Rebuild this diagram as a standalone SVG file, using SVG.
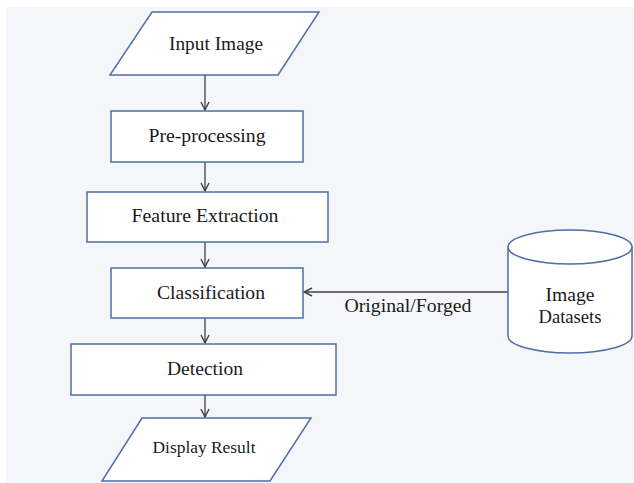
<svg xmlns="http://www.w3.org/2000/svg" width="634" height="483" viewBox="0 0 634 483">
<defs>
<style>
.shape{fill:#ffffff;stroke:#4f6ea8;stroke-width:1.5}
.conn{fill:none;stroke:#404040;stroke-width:1.3}
.t{font-family:"Liberation Serif","Times New Roman",serif;font-size:18.5px;fill:#1a1a1a;text-anchor:middle}
</style>
<marker id="arr" viewBox="0 0 10 10" refX="9" refY="5" markerWidth="10" markerHeight="10" markerUnits="userSpaceOnUse" orient="auto">
<path d="M1,1 L9,5 L1,9" fill="none" stroke="#404040" stroke-width="1.4"/>
</marker>
</defs>
<rect x="0" y="0" width="634" height="483" fill="#ffffff"/>
<rect x="6" y="7" width="628" height="476" fill="#f5f6fa"/>
<g id="connectors">
<line class="conn" x1="205" y1="75" x2="205" y2="110" marker-end="url(#arr)"/>
<line class="conn" x1="205" y1="162" x2="205" y2="191" marker-end="url(#arr)"/>
<line class="conn" x1="205" y1="242" x2="205" y2="267" marker-end="url(#arr)"/>
<line class="conn" x1="205" y1="318" x2="205" y2="343" marker-end="url(#arr)"/>
<line class="conn" x1="205" y1="395" x2="205" y2="417" marker-end="url(#arr)"/>
<line class="conn" x1="508" y1="292" x2="304" y2="292" marker-end="url(#arr)"/>
<text class="t" x="408" y="312" textLength="127" lengthAdjust="spacingAndGlyphs">Original/Forged</text>
</g>
<g id="input-image">
<polygon class="shape" points="152,12 319,12 278,75 110,75"/>
<text class="t" x="216" y="50" textLength="94" lengthAdjust="spacingAndGlyphs">Input Image</text>
</g>
<g id="pre-processing">
<rect class="shape" x="111" y="111" width="192" height="51"/>
<text class="t" x="207" y="142" textLength="117" lengthAdjust="spacingAndGlyphs">Pre-processing</text>
</g>
<g id="feature-extraction">
<rect class="shape" x="87" y="192" width="241" height="50"/>
<text class="t" x="205" y="222" textLength="147" lengthAdjust="spacingAndGlyphs">Feature Extraction</text>
</g>
<g id="classification">
<rect class="shape" x="111" y="268" width="192" height="50"/>
<text class="t" x="211" y="299" textLength="108" lengthAdjust="spacingAndGlyphs">Classification</text>
</g>
<g id="detection">
<rect class="shape" x="71" y="344" width="265" height="51"/>
<text class="t" x="205" y="375" textLength="76" lengthAdjust="spacingAndGlyphs">Detection</text>
</g>
<g id="display-result">
<polygon class="shape" points="142,418 311,418 270,481 102,481"/>
<text class="t" x="204" y="453" style="font-size:17px" textLength="103" lengthAdjust="spacingAndGlyphs">Display Result</text>
</g>
<g id="image-datasets">
<path class="shape" d="M508,247 L508,336 A62,17 0 0 0 632,336 L632,247 A62,17 0 0 0 508,247 Z"/>
<path class="shape" d="M508,247 A62,17 0 0 0 632,247" fill="none"/>
<text class="t" x="570" y="301" textLength="49" lengthAdjust="spacingAndGlyphs">Image</text>
<text class="t" x="570" y="323" textLength="63" lengthAdjust="spacingAndGlyphs">Datasets</text>
</g>
</svg>
